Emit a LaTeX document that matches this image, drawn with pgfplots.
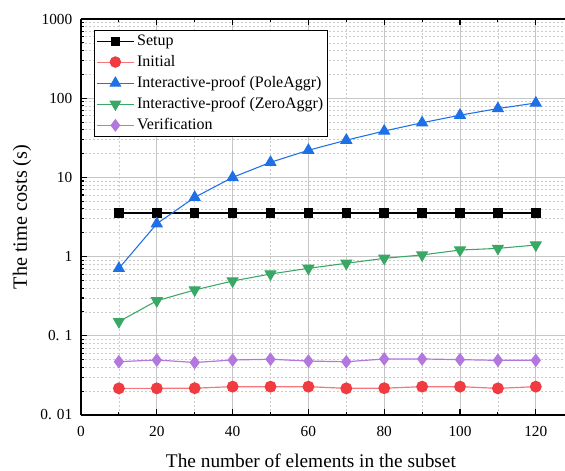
\documentclass[border=0pt]{standalone}
\usepackage{pgfplots}
\pgfplotsset{compat=1.18}
\usepackage{fontspec}
\setmainfont{Liberation Serif}
\definecolor{cset}{RGB}{0,0,0}
\definecolor{cini}{RGB}{240,60,64}
\definecolor{cpole}{RGB}{30,112,230}
\definecolor{czero}{RGB}{56,168,100}
\definecolor{cver}{RGB}{178,120,222}
\begin{document}
\begin{tikzpicture}
\begin{axis}[
  scale only axis, width=363pt, height=297pt,
  ymode=log, ymin=0.01, ymax=1000,
  xmin=0, xmax=127.7,
  axis x line=box, axis y line=left,
  axis line style={-, line width=1.1pt},
  xtick={0,20,...,120}, minor xtick={10,30,...,110},
  ytick={0.01,0.1,1,10,100,1000},
  yticklabels={0. 01,0. 1,1,10,100,1000},
  tick align=inside,
  major tick length=4.5pt, minor tick length=2.5pt,
  tick style={black, line width=0.8pt},
  /pgf/number format/assume math mode=true,
  ticklabel style={font=\fontsize{11.5}{13}\selectfont},
  yticklabel style={xshift=-3pt},
  xticklabel style={yshift=-5pt},
  xmajorgrids, xminorgrids, ymajorgrids, yminorgrids,
  major grid style={gray!45, line width=0.6pt},
  minor grid style={gray!40, dashed, dash pattern=on 1.5pt off 1.5pt, line width=0.5pt},
  xlabel={The number of elements in the subset},
  ylabel={The time costs (s)},
  xlabel style={font=\fontsize{14.5}{17}\selectfont, at={(axis description cs:0.475,-0.116)}, anchor=center},
  ylabel style={font=\fontsize{15.2}{17}\selectfont, at={(axis description cs:-0.122,0.5)}, anchor=center, rotate=0},
  legend style={at={(0.027,0.972)}, anchor=north west, draw=black, line width=0.8pt,
    font=\fontsize{12}{14}\selectfont, row sep=1.9pt, inner sep=1.3pt, fill=white},
  legend cell align=left,
  legend image post style={line width=0.6pt},
  legend image code/.code={\draw[#1] (0pt,0pt) -- (28pt,0pt); \draw[#1, mark repeat=1] plot coordinates {(14pt,0pt)};},
]
\addplot[cset, line width=0.9pt, mark=square*, mark size=3.1pt, mark options={solid}] coordinates {
(10,3.55)(20,3.55)(30,3.55)(40,3.55)(50,3.55)(60,3.55)(70,3.55)(80,3.55)(90,3.55)(100,3.55)(110,3.55)(120,3.55)};
\addlegendentry{Setup}
\addplot[cini!70, line width=0.9pt, mark=*, mark size=4pt, mark options={fill=cini, draw=cini}] coordinates {
(10,0.0217)(20,0.0217)(30,0.0218)(40,0.0228)(50,0.0228)(60,0.0228)(70,0.0217)(80,0.0218)(90,0.0228)(100,0.0228)(110,0.0217)(120,0.0228)};
\addlegendentry{Initial}
\addplot[cpole, line width=0.8pt, mark=triangle*, mark size=4.6pt, mark options={fill=cpole, draw=cpole}] coordinates {
(10,0.71)(20,2.6)(30,5.6)(40,10.0)(50,15.5)(60,22)(70,29.5)(80,38.5)(90,49)(100,61)(110,74)(120,87)};
\addlegendentry{Interactive-proof (PoleAggr)}
\addplot[czero, line width=0.8pt, mark=triangle*, mark size=4.6pt, mark options={fill=czero, draw=czero, rotate=180}] coordinates {
(10,0.151)(20,0.277)(30,0.379)(40,0.492)(50,0.603)(60,0.711)(70,0.823)(80,0.951)(90,1.05)(100,1.21)(110,1.27)(120,1.40)};
\addlegendentry{Interactive-proof (ZeroAggr)}
\addplot[cver, line width=0.9pt, mark=diamond*, mark size=4.4pt, mark options={fill=cver, draw=cver}] coordinates {
(10,0.0471)(20,0.0495)(30,0.046)(40,0.0495)(50,0.0506)(60,0.048)(70,0.047)(80,0.051)(90,0.051)(100,0.050)(110,0.049)(120,0.049)};
\addlegendentry{Verification}
\end{axis}
\pgfresetboundingbox
\path[use as bounding box] ([shift={(-60.75pt,-42pt)}]current axis.south west) rectangle ([shift={(0pt,14.25pt)}]current axis.north east);
\end{tikzpicture}
\end{document}
